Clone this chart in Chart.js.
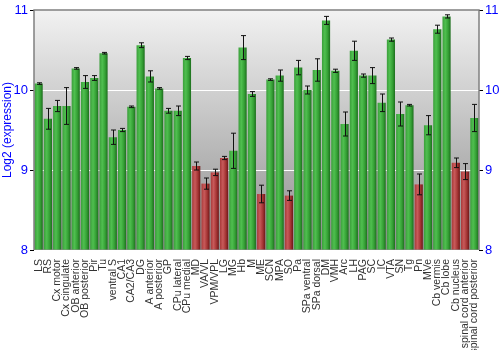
<!DOCTYPE html>
<html>
<head>
<meta charset="utf-8">
<script src="https://cdn.jsdelivr.net/npm/chart.js@4.4.0/dist/chart.umd.min.js"></script>
<style>
  html, body { margin: 0; padding: 0; background: #fff; }
</style>
</head>
<body>
<canvas id="chart" width="500" height="350"></canvas>
<script>
// region names along the x axis
const regions = ["LS", "RS", "Cx motor", "Cx cingulate", "OB anterior", "OB posterior", "Pir", "Tu",
    "ventral S", "CA1", "CA2/CA3", "DG", "A anterior", "A posterior", "GP", "CPu lateral", "CPu medial",
    "MD", "VA/VL", "VPM/VPL", "LG", "MG", "Hb", "M", "ME", "SCN", "MPA", "SO", "Pa", "SPa ventral",
    "SPa dorsal", "DM", "VMH", "Arc", "LH", "PAG", "SC", "IC", "VTA", "SN", "Tg", "Pn", "MVe",
    "Cb vermis", "Cb lobe", "Cb nucleus", "spinal cord anterior", "spinal cord posterior"];

// log2 expression per region
const expression = [10.08, 9.64, 9.80, 9.80, 10.27, 10.10, 10.15, 10.46,
    9.41, 9.50, 9.79, 10.56, 10.17, 10.02, 9.74, 9.74, 10.40,
    9.05, 8.83, 8.97, 9.15, 9.24, 10.53, 9.95, 8.70, 10.13, 10.18, 8.68, 10.28, 10.00,
    10.25, 10.87, 10.24, 9.575, 10.49, 10.18, 10.18, 9.84, 10.63, 9.70, 9.81, 8.82, 9.56,
    10.76, 10.92, 9.09, 8.98, 9.65];

// error bar half-widths
const errors = [0.01, 0.13, 0.07, 0.23, 0.01, 0.08, 0.03, 0.01,
    0.09, 0.02, 0.01, 0.03, 0.07, 0.01, 0.03, 0.06, 0.02,
    0.05, 0.07, 0.04, 0.02, 0.22, 0.15, 0.03, 0.11, 0.01, 0.07, 0.06, 0.09, 0.05,
    0.14, 0.05, 0.02, 0.15, 0.12, 0.02, 0.10, 0.11, 0.02, 0.15, 0.01, 0.13, 0.12,
    0.05, 0.02, 0.06, 0.10, 0.17];

// regions drawn in red (low expression)
const lowRegions = ["MD", "VA/VL", "VPM/VPL", "LG", "ME", "SO", "Pn", "Cb nucleus", "spinal cord anterior"];

const yTicks = [8, 9, 10, 11];
const blue = "#0000ff";

// glossy horizontal gradient for each bar
function barFill(context) {
    const chart = context.chart;
    const xScale = chart.scales.x;
    if (!xScale || !chart.chartArea) return "#3a9a3a";
    const i = context.dataIndex;
    const low = lowRegions.includes(regions[i]);
    const cx = xScale.getPixelForValue(i);
    const w = xScale.width / regions.length * 0.88;
    const g = chart.ctx.createLinearGradient(cx - w / 2, 0, cx + w / 2, 0);
    if (low) {
        g.addColorStop(0, "#a83a3a");
        g.addColorStop(0.35, "#c85a5a");
        g.addColorStop(0.7, "#a53535");
        g.addColorStop(1, "#6e1818");
    } else {
        g.addColorStop(0, "#3b9e3b");
        g.addColorStop(0.35, "#4fbf4f");
        g.addColorStop(0.7, "#35a035");
        g.addColorStop(1, "#1d6e1d");
    }
    return g;
}

// plot background gradient and frame
const backdrop = {
    id: "backdrop",
    beforeDraw(chart) {
        const { ctx, chartArea: a } = chart;
        const g = ctx.createLinearGradient(0, a.top, 0, a.bottom);
        g.addColorStop(0, "#f2f2f2");
        g.addColorStop(1, "#8e8e8e");
        ctx.save();
        ctx.fillStyle = g;
        ctx.fillRect(a.left, a.top, a.right - a.left, a.bottom - a.top);
        ctx.restore();
    },
    afterDraw(chart) {
        const { ctx, chartArea: a } = chart;
        ctx.save();
        ctx.strokeStyle = "#808080";
        ctx.lineWidth = 1.5;
        ctx.beginPath();
        ctx.moveTo(a.left, a.bottom);
        ctx.lineTo(a.left, a.top);
        ctx.lineTo(a.right, a.top);
        ctx.lineTo(a.right, a.bottom);
        ctx.stroke();
        ctx.restore();
    }
};

// error bars from the errors array
const errorBars = {
    id: "errorBars",
    afterDatasetsDraw(chart) {
        const { ctx } = chart;
        const x = chart.scales.x, y = chart.scales.y;
        ctx.save();
        ctx.strokeStyle = "#111";
        ctx.lineWidth = 1;
        expression.forEach((v, i) => {
            const px = Math.round(x.getPixelForValue(i)) + 0.5;
            const top = y.getPixelForValue(v + errors[i]);
            const bot = y.getPixelForValue(v - errors[i]);
            ctx.beginPath();
            ctx.moveTo(px, top);
            ctx.lineTo(px, bot);
            ctx.moveTo(px - 2.5, top);
            ctx.lineTo(px + 2.5, top);
            ctx.moveTo(px - 2.5, bot);
            ctx.lineTo(px + 2.5, bot);
            ctx.stroke();
        });
        ctx.restore();
    }
};

new Chart(document.getElementById("chart"), {
    type: "bar",
    data: {
        labels: regions,
        datasets: [{
            data: expression,
            backgroundColor: barFill,
            borderWidth: 0,
            barPercentage: 0.88,
            categoryPercentage: 1.0,
            base: 8
        }]
    },
    options: {
        responsive: false,
        animation: false,
        layout: { padding: { top: 10, right: 0, left: 0, bottom: 0 } },
        plugins: { legend: { display: false }, tooltip: { enabled: false } },
        scales: {
            x: {
                grid: { display: false },
                border: { display: false },
                afterFit(scale) { scale.height = 100; },
                ticks: {
                    autoSkip: false,
                    maxRotation: 90,
                    minRotation: 90,
                    padding: 1,
                    color: "#333",
                    font: { family: "Liberation Sans, Arial", size: 10.5 }
                }
            },
            y: {
                min: 8,
                max: 11,
                afterBuildTicks(scale) { scale.ticks = yTicks.map(v => ({ value: v })); },
                afterFit(scale) { scale.width = 34; },
                border: { display: false },
                grid: {
                    color: c => (c.tick && (c.tick.value === 9 || c.tick.value === 10)) ? "#ffffff" : "rgba(0,0,0,0)",
                    tickColor: "#000",
                    tickLength: 4,
                    lineWidth: 1
                },
                ticks: {
                    color: blue,
                    padding: 2,
                    font: { family: "Liberation Sans, Arial", size: 13 }
                },
                title: {
                    display: true,
                    text: "Log2 (expression)",
                    color: blue,
                    padding: 0,
                    font: { family: "Liberation Sans, Arial", size: 12 }
                }
            },
            y2: {
                position: "right",
                min: 8,
                max: 11,
                afterBuildTicks(scale) { scale.ticks = yTicks.map(v => ({ value: v })); },
                afterFit(scale) { scale.width = 21; },
                border: { display: false },
                grid: { drawOnChartArea: false, tickColor: "#000", tickLength: 4 },
                ticks: {
                    color: blue,
                    padding: 2,
                    font: { family: "Liberation Sans, Arial", size: 13 }
                }
            }
        }
    },
    plugins: [backdrop, errorBars]
});
</script>
</body>
</html>
